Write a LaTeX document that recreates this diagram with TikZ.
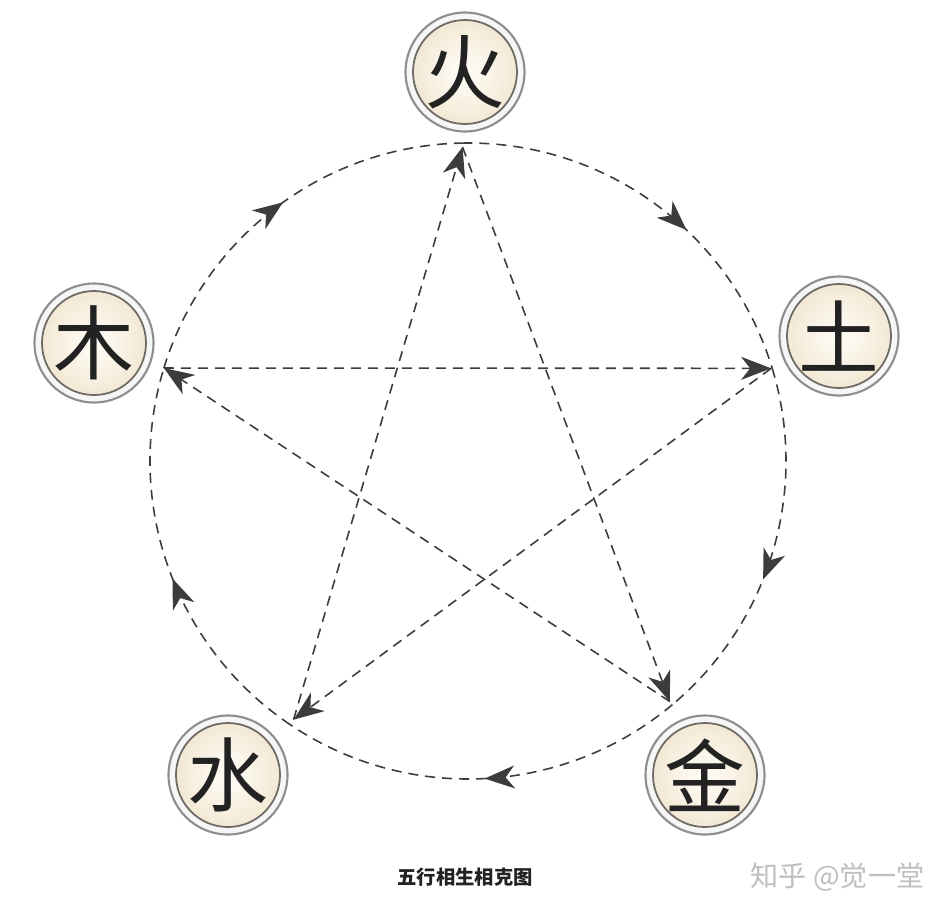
\documentclass[tikz,border=0pt]{standalone}
\usepackage{fontspec}
\newfontfamily\cjk{Noto Sans CJK SC}
\usetikzlibrary{arrows.meta,decorations.markings,calc}
\definecolor{ringline}{HTML}{8E8E8E}
\definecolor{ringfill}{HTML}{F6F6F6}
\definecolor{innerline}{HTML}{6E6A64}
\definecolor{elemin}{HTML}{FDF9F1}
\definecolor{elemout}{HTML}{E2CBA3}
\definecolor{elemtext}{HTML}{222222}
\definecolor{linkgray}{HTML}{3C3C3C}
\pgfdeclareradialshading{elemshade}{\pgfpoint{0bp}{0bp}}{color(0bp)=(elemin); color(5bp)=(elemin); color(50bp)=(elemout)}

\begin{document}
\begin{tikzpicture}[>={Stealth[length=3mm, width=2.3mm, inset=0.9mm]},
	elem/.style={circle, draw=ringline, line width=0.6pt, fill=ringfill, minimum size=1.19cm, inner sep=0pt,
		font=\cjk\fontsize{23}{23}\selectfont, text=elemtext,
		path picture={\shade[shading=elemshade] (path picture bounding box.center) circle (0.52cm);
			\draw[innerline, line width=0.5pt] (path picture bounding box.center) circle (0.52cm);}},
	link/.style={linkgray, line width=0.45pt, dash pattern=on 1mm off 0.7mm},
	ke/.style={link, ->},
	sheng/.style={link, postaction={decorate, decoration={markings, mark=at position #1 with {\arrow[linkgray]{>}}}}}]
	\useasboundingbox (0,0) rectangle (9.5,9.08);
	\coordinate (c) at (4.68,4.47);
	\coordinate (huo-p) at ($(c)+(91:3.14)$);
	\coordinate (tu-p) at ($(c)+(17:3.17)$);
	\coordinate (jin-p) at ($(c)+(-50:3.14)$);
	\coordinate (shui-p) at ($(c)+(-124:3.12)$);
	\coordinate (mu-p) at ($(c)+(163:3.18)$);
	\coordinate (huo-a) at ($(c)+(91:3.18)$);
	\coordinate (tu-a) at ($(c)+(17:3.18)$);
	\coordinate (jin-a) at ($(c)+(-50:3.18)$);
	\coordinate (shui-a) at ($(c)+(-124:3.18)$);
	\coordinate (mu-a) at ($(c)+(163:3.18)$);
	\draw[sheng=0.52] (mu-a) arc[start angle=163, end angle=91, radius=3.18];
	\draw[sheng=0.6] (huo-a) arc[start angle=91, end angle=17, radius=3.18];
	\draw[sheng=0.58] (tu-a) arc[start angle=17, end angle=-50, radius=3.18];
	\draw[sheng=0.5] (jin-a) arc[start angle=-50, end angle=-124, radius=3.18];
	\draw[sheng=0.47] (shui-a) arc[start angle=236, end angle=163, radius=3.18];
	\draw[ke] (mu-p) -- (tu-p);
	\draw[ke] (tu-p) -- (shui-p);
	\draw[ke] (shui-p) -- (huo-p);
	\draw[ke] (huo-p) -- (jin-p);
	\draw[ke] (jin-p) -- (mu-p);
	\node[elem] (huo) at (4.65,8.36) {火};
	\node[elem] (tu) at (8.39,5.72) {土};
	\node[elem] (jin) at (7.05,1.33) {金};
	\node[elem] (shui) at (2.28,1.33) {水};
	\node[elem] (mu) at (0.94,5.65) {木};
	\node[font=\cjk\bfseries\fontsize{5.5}{6}\selectfont, text=elemtext, inner sep=0pt] (title) at (4.65,0.31) {五行相生相克图};
	\node[font=\cjk\fontsize{8}{8}\selectfont, text=gray!50, anchor=east, inner sep=0pt] (mark) at (9.25,0.31) {知乎 @觉一堂};
\end{tikzpicture}
\end{document}
